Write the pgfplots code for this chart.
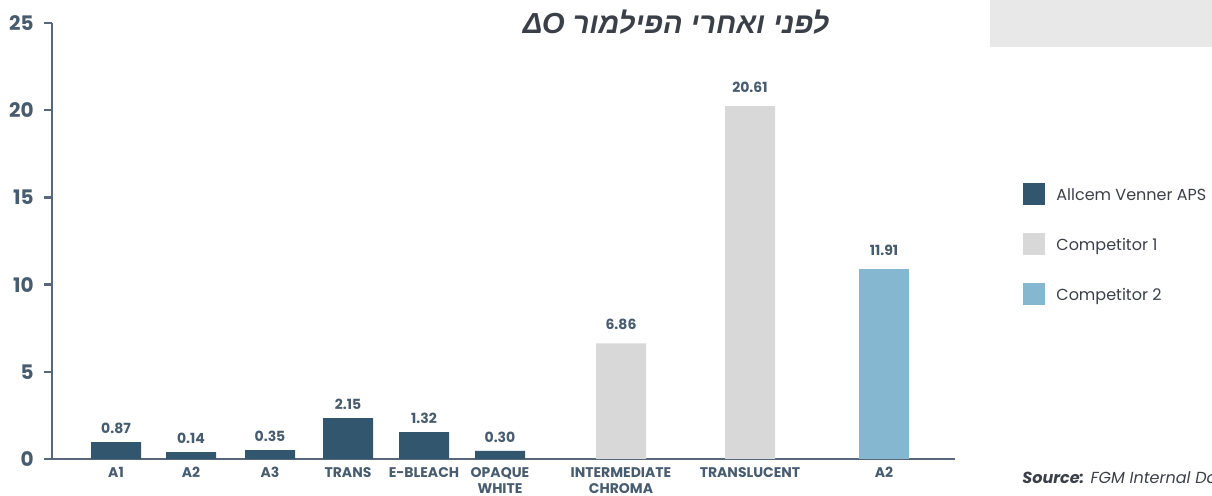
\documentclass[border=0pt]{standalone}
\usepackage{fontspec}
\setmainfont{Poppins}
\newfontfamily\hebfont[Script=Hebrew]{Liberation Sans}
\TeXXeTstate=1
\usepackage{pgfplots}
\pgfplotsset{compat=1.18}

\definecolor{navy}{HTML}{33566F}
\definecolor{lgray}{HTML}{D8D8D8}
\definecolor{lblue}{HTML}{86B7D1}
\definecolor{slate}{HTML}{485C6F}
\definecolor{axisc}{HTML}{56687A}
\definecolor{titlec}{HTML}{3B3F48}
\definecolor{boxc}{HTML}{E8E8E8}

\begin{document}
\begin{tikzpicture}
\useasboundingbox (0,0) rectangle (606pt,248pt);
\fill[boxc] (495pt,224.5pt) rectangle (606pt,248pt);

\begin{axis}[
    at={(26pt,18.5pt)}, anchor=south west,
    scale only axis, width=451.5pt, height=218pt,
    xmin=52, xmax=955, ymin=0, ymax=25,
    axis lines*=left,
    axis line style={axisc, line width=1.25pt},
    ybar, bar width=50,
    tick align=outside, major tick length=4pt,
    /pgf/number format/assume math mode=true,
    ytick={0,5,10,15,20,25},
    ytick style={axisc, line width=1.25pt},
    yticklabel style={font=\fontsize{10}{12}\selectfont\bfseries, text=slate, inner sep=0pt, xshift=-5pt},
    xtick={116,191,270,348,424,500,621,750,884},
    xticklabels={A1,A2,A3,TRANS,E-BLEACH,OPAQUE\\WHITE,INTERMEDIATE\\CHROMA,TRANSLUCENT,A2},
    xtick style={draw=none},
    xticklabel style={align=center, font=\fontsize{7}{8}\selectfont\bfseries, text=slate, inner sep=0pt},
    point meta=explicit symbolic,
    nodes near coords,
    every node near coord/.append style={font=\fontsize{7}{8}\selectfont\bfseries, text=slate, inner sep=0pt, yshift=4pt},
    legend style={at={(1.0753,0.635)}, anchor=north west, draw=none, fill=none,
        inner sep=0pt, row sep=14pt, font=\fontsize{8}{10}\selectfont, text=titlec,
        nodes={inner sep=0pt}, cells={anchor=base west}},
    legend image code/.code={\fill[#1] (0pt,-2pt) rectangle (11pt,9pt); \path (16.5pt,0pt);},
]
\addplot[fill=navy, draw=none, bar shift=0pt] coordinates {
    (116,0.97) [0.87]
    (191,0.40) [0.14]
    (270,0.51) [0.35]
    (348,2.34) [2.15]
    (424,1.54) [1.32]
    (500,0.46) [0.30]
};
\addlegendentry{Allcem Venner APS}
\addplot[fill=lgray, draw=none, bar shift=0pt,
    every node near coord/.append style={yshift=2.5pt}] coordinates {
    (621,6.63) [6.86]
    (750,20.24) [20.61]
};
\addlegendentry{Competitor 1}
\addplot[fill=lblue, draw=none, bar shift=0pt,
    every node near coord/.append style={yshift=2.5pt}] coordinates {
    (884,10.92) [11.91]
};
\addlegendentry{Competitor 2}
\end{axis}

\node[font=\hebfont\fontsize{14.5}{16}\selectfont\bfseries\itshape, text=titlec]
    at (338pt,237pt) {\beginR לפני ואחרי הפילמור \beginL ΔO\endL\endR};
\node[anchor=west, font=\fontsize{8}{9}\selectfont\itshape, text=titlec, inner sep=0pt]
    at (511pt,9pt) {\textbf{Source:} FGM Internal Data};
\end{tikzpicture}
\end{document}
